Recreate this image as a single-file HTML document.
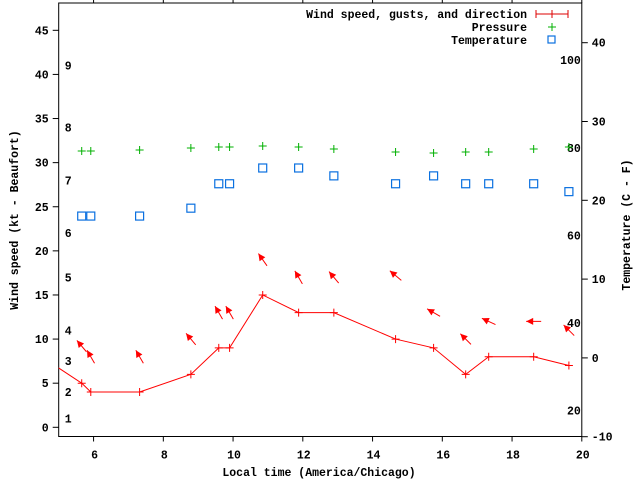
<!DOCTYPE html>
<html><head><meta charset="utf-8"><style>
body{margin:0;background:#fff;width:640px;height:480px;overflow:hidden}
svg text{font-family:"Liberation Mono",monospace;font-weight:bold;font-size:11.5px;fill:#000}
</style></head><body>
<svg id="c" width="640" height="480"></svg>
<script>
const times=[5.66,5.92,7.32,8.79,9.59,9.90,10.85,11.88,12.89,14.66,15.75,16.67,17.33,18.62,19.63];
const speeds=[5,4,4,6,9,9,15,13,13,10,9,6,8,8,7];
const gusts=[9.2,8.0,8.0,10.0,13.0,13.0,19.0,17.0,17.0,17.2,13.0,10.0,12.0,12.0,11.0];
const dirs=[130,120,120,130,120,120,125,120,130,140,150,135,155,180,135];
const pressures=[1015,1015,1015.5,1016.5,1017,1017,1017.5,1017,1016,1014.5,1014,1014.5,1014.5,1016,1017];
const temps=[18.0,18.0,18.0,19.0,22.1,22.1,24.1,24.1,23.1,22.1,23.1,22.1,22.1,22.1,21.1];
const leadTime=4.7, leadSpeed=7.5;
const xTicks=[6,8,10,12,14,16,18,20];
const yTicks=[0,5,10,15,20,25,30,35,40,45];
const tTicks=[-10,0,10,20,30,40];
const fTicks=[20,40,60,80,100];
const bft=[[1,1],[2,4],[3,7.5],[4,11],[5,17],[6,22],[7,28],[8,34],[9,41]];
const L=58.7,R=581.8,T=3,B=436.5;
const X=t=>L+(t-5)*(R-L)/15;
const Y=v=>427.3-v*8.822;
const TY=c=>436.7-(c+10)*7.88;
const FY=f=>TY((f-32)*5/9);
const PY=p=>151-(p-1015)*2;
const svg=document.getElementById('c');const NS='http://www.w3.org/2000/svg';
function mk(tag,a,p){const e=document.createElementNS(NS,tag);for(const k in a)e.setAttribute(k,a[k]);(p||svg).appendChild(e);return e;}
function txt(x,y,s,anchor,p){const e=mk('text',{x:x,y:y,'text-anchor':anchor||'start'},p);e.textContent=s;return e;}
// frame
let fr=mk('rect',{x:L,y:T,width:R-L,height:B-T,fill:'none',stroke:'#000','stroke-width':1});


xTicks.forEach(t=>{const x=X(t);mk('line',{x1:x,y1:B,x2:x,y2:B+5,stroke:'#000'});mk('line',{x1:x,y1:T,x2:x,y2:T-5,stroke:'#000'});
 const e=txt(x+1,B+22,String(t),'middle');
 });
yTicks.forEach(v=>{const y=Y(v);mk('line',{x1:L-6,y1:y,x2:L,y2:y,stroke:'#000'});
 const e=txt(L-10,y+4,String(v),'end');
 });
tTicks.forEach(c=>{const y=TY(c);mk('line',{x1:R,y1:y,x2:R+6,y2:y,stroke:'#000'});
 const e=txt(R+10,y+4,String(c),'start');
 });
fTicks.forEach(f=>{const e=txt(R-1,FY(f)+4,String(f),'end');
 });
bft.forEach(b=>{const e=txt(L+6,Y(b[1])+4,String(b[0]),'start');
 });
let yt=txt(0,0,'Wind speed (kt - Beaufort)','middle');yt.setAttribute('transform','translate(18,220) rotate(-90)');


let y2=txt(0,0,'Temperature (C - F)','middle');y2.setAttribute('transform','translate(630,225) rotate(-90)');


let xt=txt(319,476,'Local time (America/Chicago)','middle');


// clip
const defs=mk('defs',{});const cp=mk('clipPath',{id:'cl'},defs);mk('rect',{x:L,y:T,width:R-L,height:B-T},cp);
const g=mk('g',{'clip-path':'url(#cl)'});
// wind line
let pts=[[X(leadTime),Y(leadSpeed)]].concat(times.map((t,i)=>[X(t),Y(speeds[i])]));
let pl=mk('polyline',{points:pts.map(p=>p.join(',')).join(' '),fill:'none',stroke:'#f00','stroke-width':1},g);


function plus(x,y,col,p){mk('path',{d:`M${x-4},${y}h8M${x},${y-4}v8`,stroke:col,'stroke-width':1},p);}
times.forEach((t,i)=>{const x=X(t);
 const w=mk('g',{},g);
 
 plus(x,Y(speeds[i]),'#f00',w);
 // arrow
 const a=dirs[i]*Math.PI/180,cx=x,cy=Y(gusts[i]),len=15;
 const hx=cx+Math.cos(a)*len/2,hy=cy-Math.sin(a)*len/2,tx=cx-Math.cos(a)*len/2,ty=cy+Math.sin(a)*len/2;
 const ar=mk('g',{},g);
 
 mk('line',{x1:tx,y1:ty,x2:hx,y2:hy,stroke:'#f00','stroke-width':1},ar);
 const ux=Math.cos(a),uy=-Math.sin(a),hl=7,hw=3.5;
 const bx=hx-ux*hl,by=hy-uy*hl;
 mk('polygon',{points:`${hx},${hy} ${bx-uy*hw},${by+ux*hw} ${bx+uy*hw},${by-ux*hw}`,fill:'#f00'},ar);
 const pg=mk('g',{},g);
 
 plus(x,PY(pressures[i]),'#00b000',pg);
 let sq=mk('rect',{x:x-4,y:TY(temps[i])-4,width:8,height:8,fill:'none',stroke:'#0a70e0','stroke-width':1.2},g);
 
 
});
// legend
const lg=mk('g',{});

txt(527,18,'Wind speed, gusts, and direction','end',lg);
mk('path',{d:'M536,14h32M536,10v8M552,10v8M568,10v8',stroke:'#d00','stroke-width':1},lg);
txt(527,31,'Pressure','end',lg);plus(552,27,'#00b000',lg);
txt(527,44,'Temperature','end',lg);mk('rect',{x:548,y:36,width:7,height:7,fill:'none',stroke:'#0a70e0','stroke-width':1.2},lg);
</script>
</body></html>
